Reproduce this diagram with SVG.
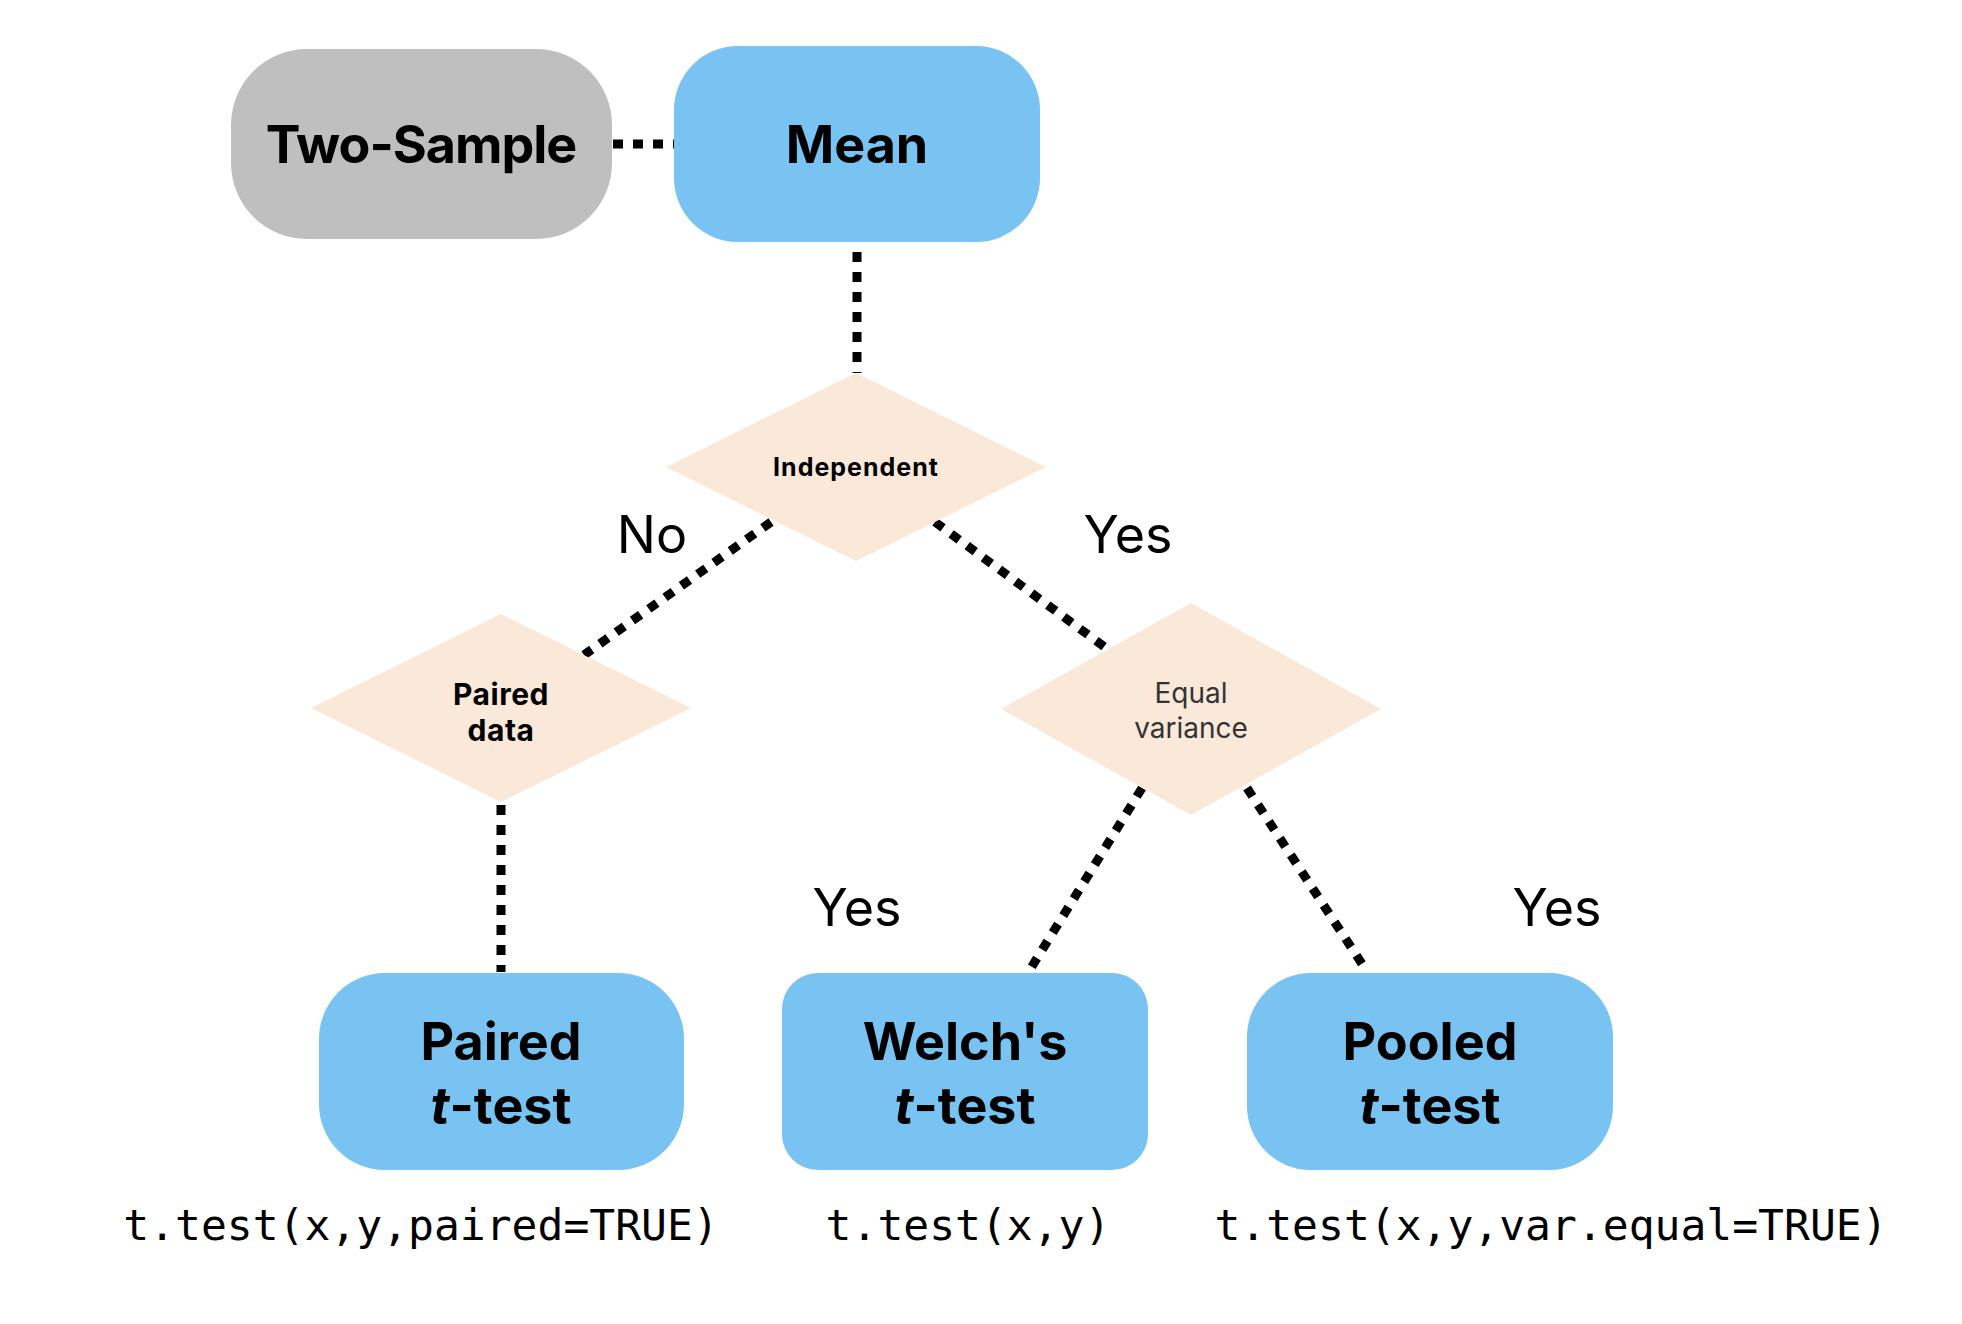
<svg xmlns="http://www.w3.org/2000/svg" width="1962" height="1324" viewBox="0 0 1962 1324">
<style>
.bg{fill:#ffffff}
.gray{fill:#BFBFBF}
.blue{fill:#78C3F1}
.dia{fill:#FAE8D9}
.big{font-family:Inter,"Liberation Sans",sans-serif;font-weight:700;font-size:52px;fill:#000;text-anchor:middle}
.ind{font-family:Inter,"Liberation Sans",sans-serif;font-weight:700;font-size:25px;letter-spacing:1px;fill:#000;text-anchor:middle}
.pd{font-family:Inter,"Liberation Sans",sans-serif;font-weight:700;font-size:30px;letter-spacing:0.5px;fill:#000;text-anchor:middle}
.eq{font-family:Inter,"Liberation Sans",sans-serif;font-weight:400;font-size:28px;fill:#333;text-anchor:middle}
.lbl{font-family:Inter,"Liberation Sans",sans-serif;font-weight:400;font-size:52px;fill:#000;text-anchor:middle}
.code{font-family:"DejaVu Sans Mono","Liberation Mono",monospace;font-size:43px;fill:#000;text-anchor:middle}
.conn{stroke:#000;stroke-width:9;stroke-dasharray:10 10;fill:none}
</style>
<rect class="bg" x="0" y="0" width="1962" height="1324"/>
<g id="connectors">
<line class="conn" x1="613" y1="144" x2="675" y2="144"/>
<line class="conn" x1="857" y1="252" x2="857" y2="373"/>
<line class="conn" x1="771" y1="522" x2="584" y2="655"/>
<line class="conn" x1="935" y1="522" x2="1106" y2="648"/>
<line class="conn" x1="501" y1="805" x2="501" y2="972"/>
<line class="conn" x1="1142" y1="788" x2="1031" y2="968"/>
<line class="conn" x1="1247" y1="788" x2="1366" y2="970"/>
</g>
<g id="two-sample">
<rect class="gray" x="231" y="49" width="381" height="190" rx="76" ry="76"/>
<text class="big" x="421" y="163" letter-spacing="-1">Two-Sample</text>
</g>
<g id="mean">
<rect class="blue" x="674" y="46" width="366" height="196" rx="64" ry="64"/>
<text class="big" x="857" y="163">Mean</text>
</g>
<g id="independent">
<polygon class="dia" points="856,373 1046,467 856,561 666,467"/>
<text class="ind" x="856" y="476">Independent</text>
</g>
<g id="paired-data">
<polygon class="dia" points="501,614 691,708 501,802 311,708"/>
<text class="pd" x="501" y="705">Paired</text>
<text class="pd" x="501" y="741">data</text>
</g>
<g id="equal-variance">
<polygon class="dia" points="1191,603 1381,709 1191,815 1001,709"/>
<text class="eq" x="1191" y="703">Equal</text>
<text class="eq" x="1191" y="738">variance</text>
</g>
<g id="paired-t">
<rect class="blue" x="319" y="973" width="365" height="197" rx="66" ry="66"/>
<text class="big" x="501" y="1060">Paired</text>
<text class="big" x="501" y="1124"><tspan font-style="italic">t</tspan>-test</text>
</g>
<g id="welch-t">
<rect class="blue" x="782" y="973" width="366" height="197" rx="36" ry="36"/>
<text class="big" x="965" y="1060">Welch's</text>
<text class="big" x="965" y="1124"><tspan font-style="italic">t</tspan>-test</text>
</g>
<g id="pooled-t">
<rect class="blue" x="1247" y="973" width="366" height="197" rx="64" ry="64"/>
<text class="big" x="1430" y="1060">Pooled</text>
<text class="big" x="1430" y="1124"><tspan font-style="italic">t</tspan>-test</text>
</g>
<g id="labels">
<text class="lbl" x="652" y="553">No</text>
<text class="lbl" x="1128" y="553">Yes</text>
<text class="lbl" x="857" y="926">Yes</text>
<text class="lbl" x="1557" y="926">Yes</text>
</g>
<g id="code">
<text class="code" x="421" y="1240">t.test(x,y,paired=TRUE)</text>
<text class="code" x="968" y="1240">t.test(x,y)</text>
<text class="code" x="1551" y="1240">t.test(x,y,var.equal=TRUE)</text>
</g>
</svg>
